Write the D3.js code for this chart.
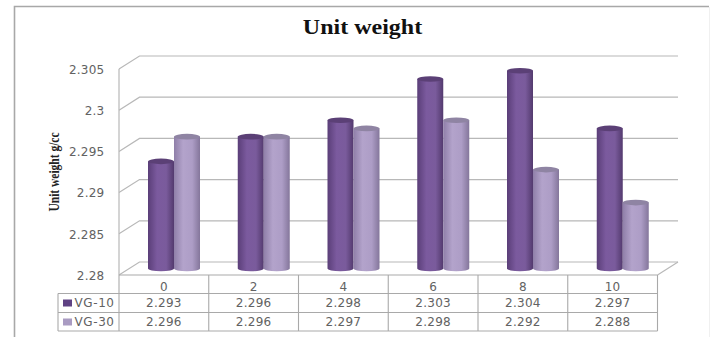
<!DOCTYPE html>
<html>
<head>
<meta charset="utf-8">
<script src="https://cdn.jsdelivr.net/npm/d3@7"></script>
<style>
html,body{margin:0;padding:0;background:#fff;}
svg{display:block;}
</style>
</head>
<body>
<svg id="chart" width="716" height="337"></svg>
<script>
const categories = ["0", "2", "4", "6", "8", "10"];
const vg10 = [2.293, 2.296, 2.298, 2.303, 2.304, 2.297];
const vg30 = [2.296, 2.296, 2.297, 2.298, 2.292, 2.288];
const seriesNames = ["VG-10", "VG-30"];
const yTicks = [2.28, 2.285, 2.29, 2.295, 2.3, 2.305];
const tickText = ["2.28", "2.285", "2.29", "2.295", "2.3", "2.305"];
const chartTitle = "Unit weight";
const yTitle = "Unit weight g/cc";

const svg = d3.select("#chart");
const sansFont = "'DejaVu Sans', Verdana, sans-serif";
const serifFont = "'Liberation Serif', 'Times New Roman', serif";
const gridColor = "#b8b8b8";
const tableColor = "#a9a9a9";
const labelColor = "#626262";
const labelSize = 12;
const labelSpacing = 0.25;

// Front plane of the 3-D plot; the back wall is offset by depth.
const x = d3.scaleBand().domain(categories).range([119, 657.5]);
const y = d3.scaleLinear().domain([2.28, 2.305]).range([275, 69]);
const depth = {dx: 20.5, dy: 13};
const series = d3.scaleBand().domain(seriesNames).range([0, 52]);
const barColors = {
  "VG-10": ["#5a3e78", "#7b5a9e", "#7a5b9c", "#533a6e"],
  "VG-30": ["#8f7fa8", "#b3a3cb", "#ad9dc6", "#84769b"]
};
const capColors = {"VG-10": "#5b4076", "VG-30": "#8f84a3"};

// Outer chart frame
svg.append("path").attr("d", "M14.5,337V6.5H709")
  .attr("fill", "none").attr("stroke", "#a8a8a8").attr("stroke-width", 1.6);
svg.append("path").attr("d", "M709.5,7V337")
  .attr("fill", "none").attr("stroke", "#f0f0f0");

// Title and rotated axis title, both set wide
svg.append("text").attr("transform", "translate(362.5,33.5) scale(1.2,1)")
  .attr("text-anchor", "middle")
  .attr("font-family", serifFont).attr("font-weight", "bold").attr("font-size", 20)
  .attr("fill", "#111").text(chartTitle);
svg.append("text").attr("transform", "translate(58.5,172) rotate(-90) scale(1,1.25)")
  .attr("text-anchor", "middle").attr("font-family", serifFont)
  .attr("font-weight", "bold").attr("font-size", 11.5).attr("fill", "#222").text(yTitle);

// Wall gridlines with their diagonal floor/side segments
const x0 = x.range()[0], x1 = x.range()[1];
const grid = svg.append("g").attr("fill", "none").attr("stroke", gridColor).attr("stroke-width", 1.2);
grid.selectAll("path.wall").data(yTicks).join("path").attr("class", "wall")
  .attr("d", t => `M${x0},${y(t)}L${x0 + depth.dx},${y(t) - depth.dy}H${x1 + depth.dx}`);
grid.append("path").attr("d", `M${x0},${y(2.305)}V${y(2.28)}`);
grid.append("path").attr("d", `M${x1},${y(2.28)}L${x1 + depth.dx},${y(2.28) - depth.dy}`);

// Value axis labels
const axis = d3.axisLeft(y).tickValues(yTicks).tickSize(0).tickPadding(0)
  .tickFormat((d, i) => tickText[i]);
const axisG = svg.append("g").attr("transform", "translate(104.5,0)").call(axis);
axisG.select(".domain").remove();
axisG.selectAll("text").attr("font-family", sansFont).attr("font-size", labelSize)
  .attr("letter-spacing", labelSpacing).attr("fill", labelColor).attr("dy", "0.36em");

// Horizontal shading used for the cylinder sides
const defs = svg.append("defs");
seriesNames.forEach((name, i) => {
  const grad = defs.append("linearGradient").attr("id", "cyl" + i);
  [0, 0.35, 0.7, 1].forEach((o, k) => {
    grad.append("stop").attr("offset", o).attr("stop-color", barColors[name][k]);
  });
});

// Cylinders: each sits mid-depth on the floor, VG-30 painted over VG-10
const ry = 2.8;
const midY = v => y(v) - depth.dy / 2;
const barLeft = (c, name) => x(c) + 29 + series(name);
const bandW = series.bandwidth();
[vg10, vg30].forEach((values, si) => {
  const name = seriesNames[si];
  const g = svg.append("g").attr("class", "series-" + si);
  g.selectAll("path.side").data(values).join("path").attr("class", "side")
    .attr("fill", `url(#cyl${si})`)
    .attr("d", (v, i) => {
      const l = barLeft(categories[i], name), r = l + bandW;
      return `M${l},${midY(v)}V${midY(2.28)}A${bandW / 2},${ry} 0 0 0 ${r},${midY(2.28)}V${midY(v)}Z`;
    });
  g.selectAll("ellipse").data(values).join("ellipse")
    .attr("cx", (v, i) => barLeft(categories[i], name) + bandW / 2)
    .attr("cy", v => midY(v)).attr("rx", bandW / 2).attr("ry", ry)
    .attr("fill", capColors[name]);
});

// Data table beneath the plot
const rowY = [275, 293.5, 312.5, 331];
const tableX = [58].concat(categories.map(c => x(c)), [x1]);
const table = svg.append("g").attr("stroke", tableColor).attr("stroke-width", 1.1).attr("fill", "none");
table.selectAll("line.h").data(rowY).join("line").attr("class", "h")
  .attr("x1", (d, i) => i < 1 ? x0 : 58).attr("x2", x1).attr("y1", d => d).attr("y2", d => d);
table.selectAll("line.v").data(tableX).join("line").attr("class", "v")
  .attr("x1", d => d).attr("x2", d => d)
  .attr("y1", (d, i) => i === 0 ? rowY[1] : rowY[0]).attr("y2", rowY[3]);

const cellText = sel => sel.attr("font-family", sansFont).attr("font-size", labelSize)
  .attr("letter-spacing", labelSpacing).attr("fill", labelColor).attr("text-anchor", "middle");
svg.append("g").selectAll("text").data(categories).join("text")
  .attr("x", c => x(c) + x.bandwidth() / 2).attr("y", 291).text(c => c).call(cellText);
[vg10, vg30].forEach((values, si) => {
  svg.append("g").selectAll("text").data(values).join("text")
    .attr("x", (v, i) => x(categories[i]) + x.bandwidth() / 2)
    .attr("y", 307 + si * 19).text(v => v.toFixed(3)).call(cellText);
  svg.append("rect").attr("x", 63).attr("y", 299.5 + si * 19).attr("width", 9).attr("height", 7)
    .attr("fill", si === 0 ? "#5f4284" : "#a99bc2");
  svg.append("text").attr("x", 74.5).attr("y", 307 + si * 19)
    .attr("font-family", sansFont).attr("font-size", labelSize).attr("letter-spacing", 0.6)
    .attr("fill", labelColor).text(seriesNames[si]);
});
</script>
</body>
</html>
